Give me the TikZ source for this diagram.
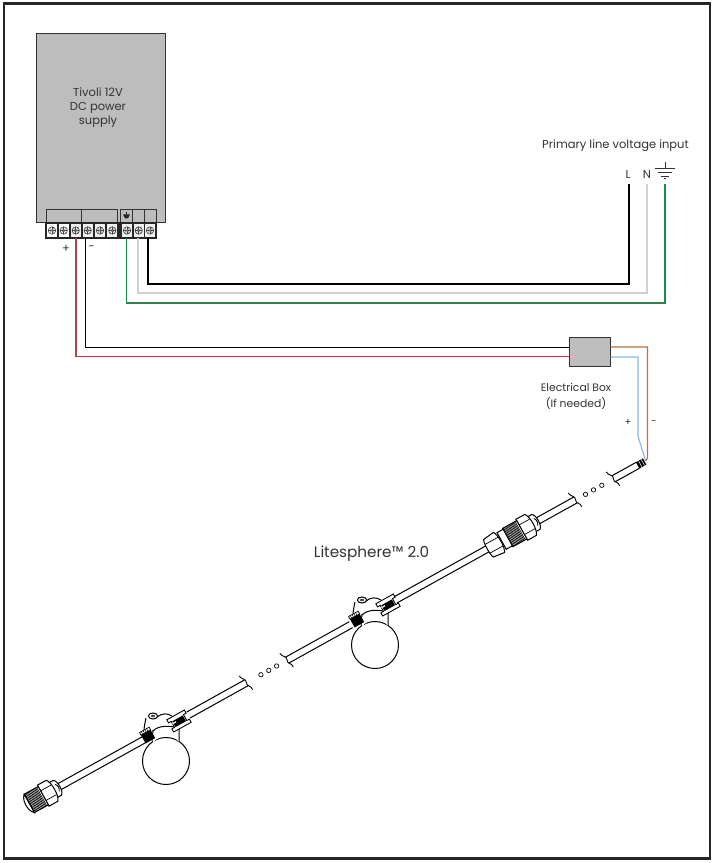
\documentclass[tikz,border=0pt]{standalone}
\usepackage{fontspec}
\setmainfont{Poppins}
\usetikzlibrary{calc}
\definecolor{psugray}{HTML}{BDBDBD}
\definecolor{wred}{HTML}{A8474A}
\definecolor{wgreen}{HTML}{1E8A50}
\definecolor{wgray}{HTML}{D0D0D0}
\definecolor{wblue}{HTML}{8DB9E8}
\definecolor{worange}{HTML}{B8753A}
\definecolor{txt}{HTML}{333333}
\tikzset{
  frameline/.style={draw=black!85,line width=2.6pt},
  boxgray/.style={draw=black!80,fill=psugray,line width=1pt,inner sep=0pt,rectangle},
  tblock/.style={draw=black!80,line width=1pt,fill=psugray,inner sep=0pt,rectangle},
  label/.style={text=txt,font=\fontsize{11.5pt}{13pt}\selectfont,inner sep=0pt,align=center},
  wire/.style={line width=1.7pt,line join=miter},
  thinwire/.style={line width=1.2pt,line join=miter},
  cab/.style={line width=1pt,black},
  pics/screw/.style={code={
    \fill[#1] (-5,-6.6) rectangle (5,6.6);
    \draw[black!75,line width=.6pt] (0,0) circle (3.7);
    \draw[black!75,line width=.6pt] (-3.7,0) -- (3.7,0) (0,-3.7) -- (0,3.7);
    \draw[black!50,line width=.4pt] (-2.6,-2.6) -- (2.6,2.6) (-2.6,2.6) -- (2.6,-2.6);
  }},
  pics/brk/.style={code={
    \draw[line width=.9pt] (-3,-9.5) .. controls (-3,-5) and (2,-4) .. (0,0) .. controls (-2,4) and (3,4) .. (2,9);
  }},
  pics/lamp/.style={code={
    % bulb
    \draw[line width=1pt,fill=white] (3,32) circle (23.5);
    % neck
    \fill[white] (-10,0) -- (-10,14) .. controls (-5,5) and (11,5) .. (16,13) -- (16,0) -- cycle;
    \draw[line width=1pt] (-10,1) -- (-11,12) (16,0) -- (16,13);
    \draw[line width=1pt] (-10,2) .. controls (-5,-4) and (10,-4) .. (16,0);
    % cap
    \draw[line width=1pt] (-17,-11) .. controls (-18,-6) and (-19,-2) .. (-19,2);
    \draw[line width=1pt] (-6,-12) .. controls (-1,-16) and (4,-16) .. (9,-13);
    \draw[line width=1pt,fill=white] (-10,-13) ellipse (4.6 and 3);
    \draw[line width=.6pt] (-10,-13) ellipse (1.8 and 1);
    % right clip
    \begin{scope}[shift={(16,-8)},rotate=29.06]
      \draw[line width=.9pt,fill=white] (-10,-7) -- (10,-7) -- (10,-3.4) -- (7,-3.4) -- (7,3.4) -- (10,3.4) -- (10,7) -- (-10,7) -- (-10,3.4) -- (-7,3.4) -- (-7,-3.4) -- (-10,-3.4) -- cycle;
      \fill[black] (-6,-3) rectangle (6,3.6);
      \fill[white] (-7,-1.4) rectangle (-3,-.2);
    \end{scope}
    % left clip
    \begin{scope}[shift={(-15.5,6.5)},rotate=29.06]
      \fill[black] (-5.5,-4) rectangle (5.5,6);
      \draw[line width=.7pt,fill=white] (-5.5,-6.5) rectangle (5.5,-3.5);
      \foreach \q in {-3.5,-1.5,.5,2.5} \draw[line width=.4pt] (\q,-6.5) -- (\q,-3.5);
    \end{scope}
  }},
  pics/connA/.style={code={
    \draw[line width=1pt,fill=white] (-7,-8.5) -- (-2,-8.5) .. controls (2,-7) and (2,7) .. (-2,8.5) -- (-7,8.5) -- cycle;
    \draw[line width=.9pt] (-2,-4) .. controls (0,-2) and (0,2) .. (-2,4);
    \draw[line width=1pt,fill=white] (-18,-12) -- (-8,-12) .. controls (-4,-8) and (-4,8) .. (-8,12) -- (-18,12) -- cycle;
    \draw[line width=.7pt] (-18,-5.5) -- (-6,-5.5) (-18,5.5) -- (-6,5.5);
    \draw[line width=1pt,fill=white] (-34,-10.5) rectangle (-18,10.5);
    \foreach \q in {-33,-31.8,...,-19} \draw[line width=.65pt] (\q,-10.5) -- (\q,10.5);
  }},
  pics/connB/.style={code={
    \draw[line width=1pt,fill=white] (-41,-9.5) rectangle (-34,9.5);
    \draw[line width=1pt,fill=white] (-56,-10) -- (-44,-11.5) .. controls (-41,-7) and (-41,7) .. (-44,11.5) -- (-56,10) .. controls (-58,7) and (-58,-7) .. (-56,-10) -- cycle;
    \draw[line width=.7pt] (-57,-5) -- (-42,-5) (-57,5) -- (-42,5);
  }},
  pics/connEnd/.style={code={
    \draw[line width=1pt,fill=white] (-36,-8) .. controls (-38.5,-4) and (-38.5,4) .. (-36,8) -- (-34,10.5) -- (-34,-10.5) -- cycle;
  }},
}
\begin{document}
\begin{tikzpicture}[x=1pt,y=-1pt]
\useasboundingbox (0,0) rectangle (713,863);
\fill[white] (0,0) rectangle (713,863);
\node[frameline,minimum width=706pt,minimum height=855pt,inner sep=0pt,rectangle] (frame) at (357,430.7) {};

% power supply
\node[boxgray,minimum width=128.5pt,minimum height=189pt] (psu) at (100.8,127.5) {};
\node[label,anchor=center] (psutext) at (98,107.5) {Tivoli 12V\\[1pt]DC power\\[1pt]supply};
\node[tblock,minimum width=35.7pt,minimum height=13pt] (tb1) at (63.85,215.5) {};
\node[tblock,minimum width=36pt,minimum height=13pt] (tb2) at (99.7,215.5) {};
\node[tblock,minimum width=11.6pt,minimum height=13pt] (tb3) at (126.5,215.5) {};
\node[tblock,minimum width=12pt,minimum height=13pt] (tb4) at (138.2,215.5) {};
\node[tblock,minimum width=12pt,minimum height=13pt] (tb5) at (150,215.5) {};
\draw[line width=.9pt,black!85] (126.5,211.5) -- (126.5,214.5);
\fill[black!85] (123,214.3) -- (130,214.3) -- (128,218.3) -- (125,218.3) -- cycle;
% terminal strip
\node[draw=black!85,fill=black!85,line width=1pt,minimum width=110.5pt,minimum height=15.5pt,inner sep=0pt,rectangle] (strip) at (100.75,230.5) {};
\foreach \sx/\sc in {52/white,63.7/white,75.7/black!6,87.7/black!6,100/black!6,112.3/black!6,127/black!6,138.7/black!6,150/black!6}
  \pic at (\sx,230.5) {screw=\sc};
\coordinate (tRed) at (76,238.3);
\coordinate (tBlk) at (85.5,238.3);
\coordinate (tGrn) at (126.5,238.3);
\coordinate (tGry) at (138,238.3);
\coordinate (tLin) at (148,238.3);

\node[label] (plus1) at (66,248.5) {+};
\node[label] (minus1) at (91.5,248.5) {-};

% mains
\node[label] (primary) at (615.5,146) {Primary line voltage input};
\node[label] (lL) at (628,174) {L};
\node[label] (lN) at (647,174) {N};
\coordinate (inL) at (629,183.5);
\coordinate (inN) at (647,183.5);
\coordinate (inG) at (665,183.5);
\draw[line width=.8pt,black!80] (665,161.5) -- (665,168) (655,168) -- (675,168) (658,172) -- (672,172) (661,176) -- (669,176) (664.3,178.7) -- (665.7,178.7);

\draw[wire,black] (tLin) |- (inL |- 0,284) -- (inL);
\draw[wire,wgray] (tGry) |- (inN |- 0,293) -- (inN);
\draw[wire,wgreen] (tGrn) |- (inG |- 0,303) -- (inG);

% electrical box
\node[boxgray,minimum width=41pt,minimum height=29pt] (ebox) at (589.5,351.5) {};
\node[label,font=\fontsize{10.8pt}{13pt}\selectfont] (eboxtext) at (576,396) {Electrical Box\\[3pt](If needed)};
\coordinate (eBlk) at (ebox.west |- 0,347);
\coordinate (eRed) at (ebox.west |- 0,356.5);
\coordinate (eOra) at (ebox.east |- 0,347);
\coordinate (eBlu) at (ebox.east |- 0,357);
\draw[line width=1pt,black] (tBlk) |- (eBlk);
\draw[line width=1.5pt,wred] (tRed) |- (eRed);

\coordinate (tip) at (645.5,461);
\draw[thinwire,wblue] (eBlu) -- (638,357) -- (638,436) -- (tip);
\draw[thinwire,worange] (eOra) -- (647.5,347) -- (647.5,458) -- (tip);
\node[label,font=\fontsize{10pt}{12pt}\selectfont] (plus2) at (628,422.5) {+};
\node[label,font=\fontsize{10pt}{12pt}\selectfont] (minus2) at (654,422.5) {-};

\node[label,font=\fontsize{15.2pt}{17pt}\selectfont] (lite) at (371.5,553.5) {Litesphere™ 2.0};

% cable, in its own axis: x runs along the cable, 0 at the tip
\begin{scope}[shift={(tip)},rotate=29.06]
  \foreach \a/\b in {-36.6/-9,-123.6/-80,-286/-180,-410/-337,-523/-456.5,-671/-570}
    \draw[cab] (\a,-3.4) -- (\b,-3.4) (\a,3.4) -- (\b,3.4);
  \fill[black] (-9,-3.6) rectangle (-1,3.6);
  \draw[white,line width=.5pt] (-6,-3.6) -- (-6,3.6) (-3,-3.6) -- (-3,3.6);
  \pic[transform shape] at (-36.6,0) {brk};
  \pic[transform shape] at (-80,0) {brk};
  \pic[transform shape] at (-410,0) {brk};
  \pic[transform shape] at (-456.5,0) {brk};
  \foreach \d in {-50,-59.5,-68.6,-422,-431,-440}
    \draw[line width=.7pt] (\d,0) circle (2.2);
  \pic[transform shape] at (-123.6,0) {connA};
  \pic[transform shape] at (-123.6,0) {connB};
  \pic[transform shape] at (-671,0) {connA};
  \pic[transform shape] at (-671,0) {connEnd};
\end{scope}
\pic at (372,613) {lamp};
\pic at (163,729) {lamp};
\end{tikzpicture}
\end{document}
